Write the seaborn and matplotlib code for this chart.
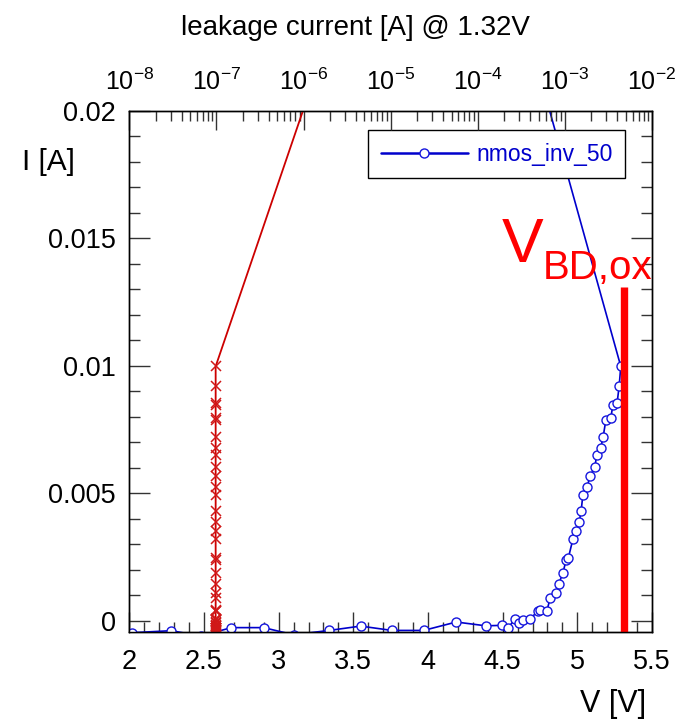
import matplotlib
matplotlib.use("Agg")
import numpy as np
import pandas as pd
import matplotlib.pyplot as plt
import seaborn as sns
from matplotlib.ticker import MultipleLocator, FuncFormatter, LogLocator, NullFormatter

# ---- data ----
stress_current_A = [-0.00047, -0.00039, -0.00060, -0.00027, -0.00027, -0.00055,
                    -0.00038, -0.00021, -0.00038, -0.00038, -0.00005, -0.00020,
                    -0.00018, -0.00027, 0.000055, -0.00010, 0.00003, 0.00007,
                    0.00038, 0.00042, 0.00038, 0.00089, 0.00108, 0.00145,
                    0.00187, 0.00238, 0.00247, 0.00319, 0.00351, 0.00386,
                    0.00429, 0.00492, 0.00523, 0.00568, 0.00602, 0.00651,
                    0.00679, 0.00722, 0.00787, 0.00794, 0.00847, 0.00853,
                    0.00920, 0.00998, 0.0300]
stress_voltage_V = [2.02, 2.281, 2.48, 2.683, 2.899, 3.10,
                    3.339, 3.549, 3.758, 3.971, 4.189, 4.388,
                    4.495, 4.535, 4.584, 4.612, 4.639, 4.684,
                    4.736, 4.751, 4.796, 4.818, 4.858, 4.876,
                    4.903, 4.925, 4.940, 4.970, 4.992, 5.012,
                    5.025, 5.037, 5.064, 5.086, 5.117, 5.130,
                    5.157, 5.173, 5.191, 5.224, 5.238, 5.266,
                    5.280, 5.291, 4.34]
leakage_A = [9.8e-8] * 44 + [9.8e-6]
series_label = "nmos_inv_50"
vbd_ox_V = 5.313
vbd_ox_top_A = 0.0131
bottom_ticks = [2, 2.5, 3, 3.5, 4, 4.5, 5, 5.5]
left_ticks = [0, 0.005, 0.01, 0.015, 0.02]

df = pd.DataFrame({"V": stress_voltage_V, "I": stress_current_A, "leak": leakage_A})

sns.set_theme(style="ticks")
plt.rcParams['font.family'] = ['Liberation Sans', 'DejaVu Sans']
plt.rcParams['axes.linewidth'] = 1.0
plt.rcParams['text.color'] = 'black'
plt.rcParams['xtick.labelcolor'] = 'black'
plt.rcParams['ytick.labelcolor'] = 'black'

BLUE = '#0000CC'
DRED = '#CC0000'

fig = plt.figure(figsize=(6.87, 7.19), dpi=100)
ax = fig.add_axes([129.3 / 687, 1 - 631.7 / 719, 522.7 / 687, 520.7 / 719])

sns.lineplot(data=df, x="V", y="I", sort=False, estimator=None, ax=ax,
             color=BLUE, lw=1.2, marker='o', ms=6.5, mfc='white', mec='#1515DD',
             mew=1.0, label=series_label, zorder=3)

ax.set_xlim(2, 5.5)
ax.set_ylim(-0.00043, 0.02)
ax.vlines(vbd_ox_V, -0.00043, vbd_ox_top_A, color='#FF0000', lw=5.3, zorder=6)

ax.set_xticks(bottom_ticks)
ax.set_yticks(left_ticks)
ax.xaxis.set_minor_locator(MultipleLocator(0.1))
ax.yaxis.set_minor_locator(MultipleLocator(0.001))
ax.xaxis.set_major_formatter(FuncFormatter(lambda v, p: f"{v:g}"))
ax.yaxis.set_major_formatter(FuncFormatter(lambda v, p: f"{v:g}"))
ax.tick_params(axis='x', which='both', direction='in', bottom=True, top=False,
               labelsize=19.5, pad=12.5, width=1.0, color='#333333',
               labelcolor='black')
ax.tick_params(axis='x', which='major', length=14.5)
ax.tick_params(axis='x', which='minor', length=7)
ax.tick_params(axis='y', which='both', direction='in', left=True, right=True,
               labelsize=19.5, pad=9.5, width=1.0, color='#333333',
               labelcolor='black')
ax.tick_params(axis='y', which='major', length=15)
ax.tick_params(axis='y', which='minor', length=8)
ax.set_xlabel('')
ax.set_ylabel('')
for s in ax.spines.values():
    s.set_color('black')
    s.set_linewidth(1.0)

leg = ax.legend(loc='upper right', bbox_to_anchor=(0.9483, 0.9635), borderaxespad=0,
                fontsize=16.5, frameon=True, fancybox=False, framealpha=1,
                edgecolor='black', borderpad=0.55, handlelength=3.8,
                handletextpad=0.35, labelcolor=BLUE)
leg.get_frame().set_linewidth(1.0)
for h in leg.get_lines():
    h.set_linewidth(1.8)
leg.set_zorder(10)

# top log axis: leakage current
ax2 = ax.twiny()
ax2.set_xscale('log')
ax2.set_xlim(1e-8, 1e-2)
sns.lineplot(data=df, x="leak", y="I", sort=False, estimator=None, ax=ax2,
             color=DRED, lw=1.3, marker='x', ms=7, mec='#D01818', mew=1.1,
             legend=False)
ax2.set_xlim(1e-8, 1e-2)
ax2.set_ylim(-0.00043, 0.02)
ax2.xaxis.set_major_locator(LogLocator(base=10, numticks=20))
ax2.xaxis.set_minor_locator(LogLocator(base=10, subs=np.arange(2, 10), numticks=100))
ax2.xaxis.set_minor_formatter(NullFormatter())
ax2.xaxis.set_major_formatter(FuncFormatter(
    lambda v, p: r"$\mathregular{10^{%d}}$" % int(round(np.log10(v)))))
ax2.tick_params(axis='x', which='both', direction='in', top=True, bottom=False,
                labelsize=18, pad=11.5, width=1.0, color='#333333',
                labelcolor='black')
ax2.tick_params(axis='x', which='major', length=14)
ax2.tick_params(axis='x', which='minor', length=7.3)
ax2.set_xlabel('')
ax2.set_ylabel('')
for s in ax2.spines.values():
    s.set_color('black')
    s.set_linewidth(1.0)

W, H = 687, 719
fig.text(355.5 / W, 1 - 35 / H, "leakage current [A] @ 1.32V", ha='center',
         va='baseline', fontsize=20, color='black')
fig.text(48.3 / W, 1 - 170 / H, "I [A]", ha='center', va='baseline', fontsize=21.5,
         color='black')
fig.text(613.3 / W, 1 - 711.7 / H, "V [V]", ha='center', va='baseline', fontsize=22,
         color='black')
fig.text(502 / W, 1 - 261.7 / H, "V", ha='left', va='baseline', fontsize=45,
         color='#FF0000')
fig.text(543 / W, 1 - 279 / H, "BD,ox", ha='left', va='baseline', fontsize=29,
         color='#FF0000')

fig.savefig("out.png", dpi=100)
